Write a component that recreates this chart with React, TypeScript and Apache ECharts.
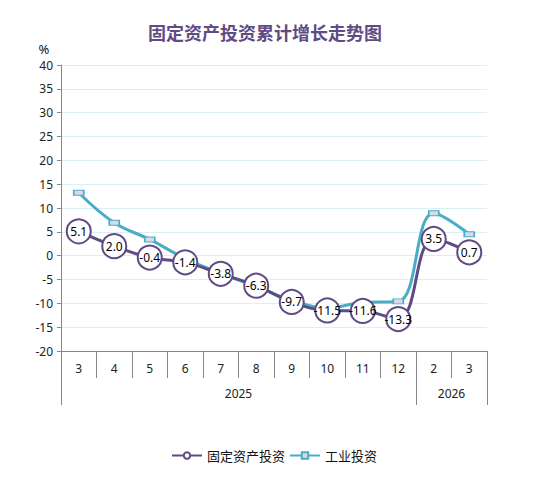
import React, { useEffect, useRef } from "react";
import * as echarts from "echarts";

const months = ["3", "4", "5", "6", "7", "8", "9", "10", "11", "12", "2", "3"];
const yearLabels = ["2025", "2026"];
const fixedAsset = [5.1, 2.0, -0.4, -1.4, -3.8, -6.3, -9.7, -11.5, -11.6, -13.3, 3.5, 0.7];
const industrial = [13.2, 6.9, 3.4, -0.6, -3.7, -6.5, -9.4, -11.0, -9.8, -9.6, 8.9, 4.5];
const yearCenters = [5, 11];
const yearBounds = [0, 10, 12];

const PURPLE = "#5f4b85";
const CYAN = "#4bacc6";
const FONT = "'Noto Sans', 'Noto Sans CJK SC', sans-serif";
const CJK = "'Noto Sans CJK SC', sans-serif";

export default function App() {
  const ref = useRef<HTMLDivElement>(null);
  useEffect(() => {
    if (!ref.current) return;
    const chart = echarts.init(ref.current, undefined, { renderer: "svg" });
    chart.setOption({
      animation: false,
      backgroundColor: "#fff",
      title: {
        text: "固定资产投资累计增长走势图",
        left: 260,
        textAlign: "center",
        top: 18,
        textStyle: { fontFamily: CJK, fontSize: 18, fontWeight: "bold", color: "#604c84" },
      },
      graphic: [
        {
          type: "text",
          x: 44,
          y: 49,
          style: { text: "%", fontFamily: FONT, fontSize: 13, fill: "#111", align: "center", verticalAlign: "middle" },
        },
      ],
      legend: {
        top: 444,
        left: 166,
        itemWidth: 30,
        itemHeight: 8,
        itemGap: 4,
        textStyle: { fontFamily: CJK, fontSize: 13, color: "#111" },
        data: ["固定资产投资", "工业投资"],
      },
      grid: { left: 61, right: 53, top: 65, bottom: 126, containLabel: false },
      xAxis: [
        {
          type: "category",
          data: months,
          boundaryGap: true,
          axisLine: { show: true, onZero: false, lineStyle: { color: "#888", width: 1 } },
          axisTick: { show: true, alignWithLabel: false, interval: 0, length: 27, lineStyle: { color: "#888" } },
          axisLabel: { interval: 0, margin: 11, fontFamily: FONT, fontSize: 12, color: "#222" },
          splitLine: { show: false },
        },
        {
          type: "value",
          min: 0,
          max: 12,
          position: "bottom",
          offset: 27,
          axisLine: { show: false, onZero: false },
          axisTick: { show: true, customValues: yearBounds, length: 27, lineStyle: { color: "#888" } },
          axisLabel: {
            customValues: yearCenters,
            margin: 9,
            fontFamily: FONT,
            fontSize: 12,
            color: "#222",
            formatter: (v: number) => (v === yearCenters[0] ? yearLabels[0] : yearLabels[1]),
          },
          splitLine: { show: false },
        },
      ],
      yAxis: {
        type: "value",
        min: -20,
        max: 40,
        interval: 5,
        axisLine: { show: true, lineStyle: { color: "#888" } },
        axisTick: { show: true, length: 4, lineStyle: { color: "#888" } },
        axisLabel: { margin: 8, fontFamily: FONT, fontSize: 12, color: "#222" },
        splitLine: { show: true, lineStyle: { color: "#dbeef5", width: 1 } },
      },
      series: [
        {
          name: "工业投资",
          type: "line",
          data: industrial,
          smooth: 0.4,
          z: 2,
          symbol: "rect",
          symbolSize: [10, 5],
          lineStyle: { color: CYAN, width: 3 },
          itemStyle: { color: "#d6dbe6", borderColor: CYAN, borderWidth: 1.2 },
        },
        {
          name: "固定资产投资",
          type: "line",
          data: fixedAsset,
          smooth: 0.4,
          z: 3,
          symbol: "circle",
          symbolSize: 24,
          showAllSymbol: true,
          lineStyle: { color: PURPLE, width: 3 },
          itemStyle: { color: "#fff", borderColor: PURPLE, borderWidth: 2 },
          label: {
            show: true,
            position: "inside",
            fontFamily: FONT,
            fontSize: 12,
            color: "#000",
            formatter: (p: any) => Number(p.value).toFixed(1),
          },
        },
      ],
    });
    return () => chart.dispose();
  }, []);
  return <div ref={ref} style={{ position: "absolute", left: 0, top: 0, width: 540, height: 477 }} />;
}
